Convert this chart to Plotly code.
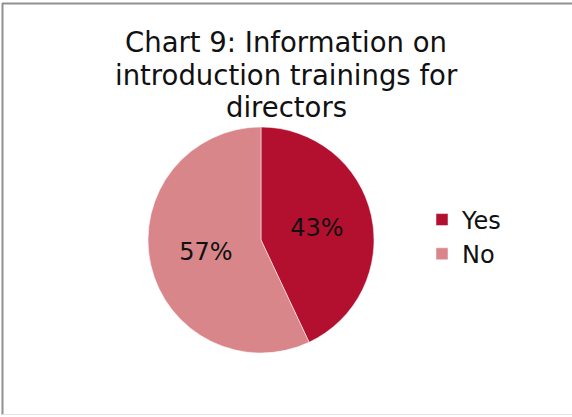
import plotly.graph_objects as go

labels = ["Yes", "No"]
values = [43, 57]
colors = ["#B2102E", "#D9868B"]
title_lines = ["Chart 9: Information on", "introduction trainings for", "directors"]

W, H = 572, 417

fig = go.Figure(go.Pie(
    labels=labels, values=values, sort=False, direction="clockwise", rotation=0,
    marker=dict(colors=colors, line=dict(color="white", width=0.5)),
    textinfo="percent", textposition="inside", insidetextorientation="horizontal",
    textfont=dict(size=24, color="#111111", family="DejaVu Sans"),
    domain=dict(x=[148/W, 374/W], y=[(H-353)/H, (H-127)/H]),
    hoverinfo="label+percent",
))

title_y = [42, 75, 107]
annotations = [dict(
    text=t, x=286/W, y=1-yy/H, xref="paper", yref="paper", xanchor="center", yanchor="middle",
    showarrow=False, font=dict(size=27.5, family="DejaVu Sans", color="#111111"),
) for t, yy in zip(title_lines, title_y)]

fig.update_layout(
    width=W, height=H,
    margin=dict(l=0, r=0, t=0, b=0),
    paper_bgcolor="white",
    font=dict(family="DejaVu Sans", color="#111111"),
    annotations=annotations,
    legend=dict(x=422/W, y=1-237/H, xanchor="left", yanchor="middle",
                font=dict(size=24, family="DejaVu Sans", color="#111111"),
                itemwidth=30, tracegroupgap=0),
    shapes=[
        dict(type="line", xref="paper", yref="paper", x0=2.5/W, x1=2.5/W,
             y0=1-415/H, y1=1-3/H, line=dict(color="#909090", width=2)),
        dict(type="line", xref="paper", yref="paper", x0=2/W, x1=1,
             y0=1-3.5/H, y1=1-3.5/H, line=dict(color="#909090", width=2)),
        dict(type="line", xref="paper", yref="paper", x0=2/W, x1=1,
             y0=1-414.5/H, y1=1-414.5/H, line=dict(color="#e4e4e4", width=1)),
    ],
)

fig.write_html("out.html", config={"displayModeBar": False},
               post_script="document.body.style.margin='0';")
